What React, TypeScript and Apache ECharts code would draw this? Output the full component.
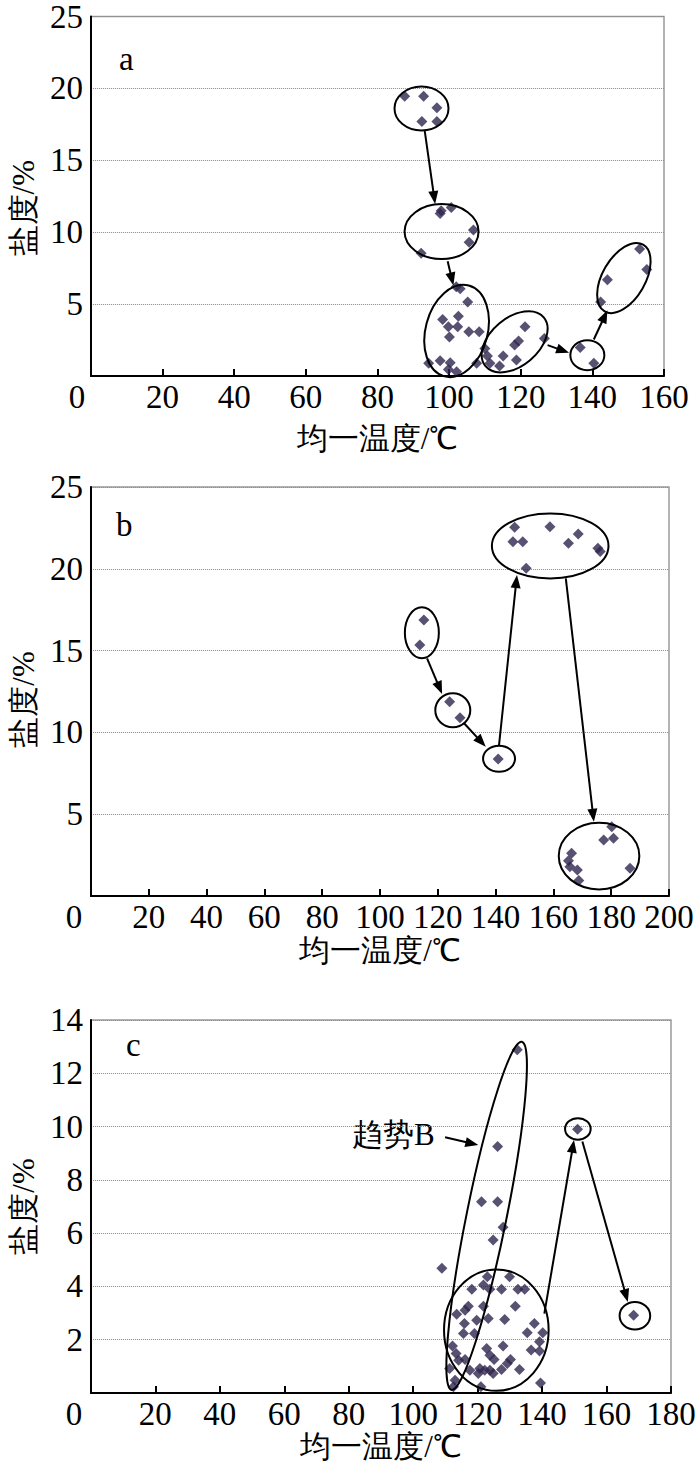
import React, { useEffect, useRef } from 'react';
import * as echarts from 'echarts';

const SERIF = 'Liberation Serif';
const MARK = '#30264d';

// ---------- Panel a ----------
const aTemp = [87.6, 92.9, 96.6, 92.4, 96.6,
  97.8, 100.6, 97.5, 106.8, 105.6, 92.2,
  103.1, 102.0, 105.2, 98.2, 102.6, 99.8, 102.4, 105.5, 108.4, 100.1, 94.3, 97.5, 100.3, 99.8, 102.1, 107.7,
  110.0, 110.7, 111.4, 114.1, 115.1, 118.8, 118.3, 119.4, 121.2, 126.6,
  136.6, 140.4,
  153.2, 155.2, 144.2, 142.3];
const aSal = [19.46, 19.46, 18.65, 17.7, 17.7,
  11.5, 11.72, 11.3, 10.16, 9.3, 8.54,
  6.07, 6.2, 5.15, 3.93, 4.16, 3.42, 3.42, 3.07, 3.07, 2.72, 0.88, 1.06, 0.92, 0.46, 0.3, 0.88,
  1.92, 1.39, 0.88, 0.69, 1.39, 1.11, 2.15, 2.44, 3.42, 2.61,
  1.99, 0.88,
  8.84, 7.41, 6.7, 5.15];
// ellipse annotations: [centre temp, centre salinity, rx px, ry px, rotation deg]
const aEllipses = [
  [92.3, 18.6, 27, 22, 0],
  [97.9, 10.04, 37, 27.5, 0],
  [102.1, 3.13, 31, 47, -15],
  [118.3, 2.38, 38, 24, 40],
  [138.6, 1.45, 17, 15, 0],
  [148.8, 6.81, 38.5, 21.4, 60],
];
// arrows: [from temp, from sal, to temp, to sal]
const aArrows = [
  [93.2, 17.04, 96.1, 11.96],
  [99.6, 7.98, 101.2, 6.3],
  [127.5, 2.15, 133.5, 1.61],
  [140.4, 2.54, 144.2, 4.57],
];

// ---------- Panel b ----------
const bTemp = [115.2, 113.8, 124.1, 127.7, 140.9,
  146.6, 146.0, 149.4, 158.8, 168.6, 165.2, 175.4, 176.2, 150.6,
  180.2, 177.4, 180.8, 166.3, 165.2, 165.7, 168.3, 168.8, 186.5];
const bSal = [16.87, 15.34, 11.88, 10.9, 8.37,
  22.54, 21.66, 21.66, 22.57, 22.13, 21.56, 21.25, 21.05, 20.03,
  4.24, 3.42, 3.53, 2.61, 2.16, 1.79, 1.59, 0.94, 1.69];
const bEllipses = [
  [114.5, 16.09, 17, 25.5, 0],
  [125.2, 11.35, 17.5, 17, 0],
  [141.2, 8.39, 16, 13, 0],
  [158.9, 21.4, 58.3, 32.5, 0],
  [175.8, 2.44, 40.3, 33.3, 0],
];
const bArrows = [
  [116.3, 14.53, 121.5, 12.35],
  [129.1, 10.56, 136.6, 9.13],
  [141.2, 9.23, 147.4, 19.62],
  [164.3, 19.42, 174.0, 4.54],
];

// ---------- Panel c ----------
const cTemp = [132.3, 126.2, 121.2, 126.2, 127.9, 124.8, 108.9, 123.0, 129.9, 121.8,
  118.2, 127.4, 132.5, 134.6, 123.8, 121.8, 131.7, 117.1, 116.1, 113.5,
  123.3, 119.7, 128.4, 115.9, 137.6, 115.6, 119.0, 135.4, 140.2, 139.2,
  112.2, 127.9, 122.8, 113.3, 136.6, 139.2, 123.8, 125.1, 130.2, 114.1,
  116.1, 129.2, 111.3, 120.7, 122.2, 123.8, 127.4, 133.0, 117.6, 120.2,
  124.8, 113.0, 139.5, 112.5, 121.0, 151.0, 168.4];
const cSal = [12.88, 9.25, 7.18, 7.18, 6.22, 5.74, 4.68, 4.36, 4.36, 4.05,
  3.89, 3.89, 3.89, 3.89, 3.89, 3.26, 3.26, 3.26, 3.11, 2.96,
  2.8, 2.73, 2.76, 2.61, 2.61, 2.23, 2.23, 2.26, 2.26, 1.92,
  1.76, 1.76, 1.67, 1.48, 1.61, 1.58, 1.42, 1.26, 1.26, 1.23,
  1.26, 1.11, 0.92, 0.92, 0.85, 0.85, 0.88, 0.88, 0.85, 0.73,
  0.73, 0.48, 0.38, 0.23, 0.23, 9.9, 2.92];
const cEllipses = [
  [122.8, 6.65, 20, 177.6, -11.4],
  [125.8, 2.36, 52.3, 60.7, 0],
  [151.1, 9.91, 12.8, 10.8, 0],
  [168.8, 2.9, 15.3, 13.8, 0],
];
const cArrows = [
  [140.7, 2.98, 149.9, 9.5],
  [152.5, 9.44, 166.6, 3.42],
  [109.9, 9.6, 120.2, 9.31],
];

const xTitle = '均一温度/℃';
const yTitle = '盐度/%';

const ellipseItem = (params: any, api: any) => {
  const c = api.coord([api.value(0), api.value(1)]);
  return {
    type: 'ellipse',
    x: c[0],
    y: c[1],
    rotation: (api.value(4) * Math.PI) / 180,
    shape: { cx: 0, cy: 0, rx: api.value(2), ry: api.value(3) },
    style: { fill: 'none', stroke: '#000', lineWidth: 2 },
  };
};

const arrowItem = (params: any, api: any) => {
  const p1 = api.coord([api.value(0), api.value(1)]);
  const p2 = api.coord([api.value(2), api.value(3)]);
  const dx = p2[0] - p1[0];
  const dy = p2[1] - p1[1];
  const len = Math.hypot(dx, dy) || 1;
  const ux = dx / len;
  const uy = dy / len;
  const hl = 13;
  const hw = 5;
  const bx = p2[0] - ux * hl;
  const by = p2[1] - uy * hl;
  return {
    type: 'group',
    children: [
      { type: 'line', shape: { x1: p1[0], y1: p1[1], x2: bx + ux * 2, y2: by + uy * 2 }, style: { stroke: '#000', lineWidth: 2 } },
      {
        type: 'polygon',
        shape: { points: [[p2[0], p2[1]], [bx - uy * hw, by + ux * hw], [bx + uy * hw, by - ux * hw]] },
        style: { fill: '#000' },
      },
    ],
  };
};

const tok = { fontFamily: SERIF, fontSize: 33, color: '#000' };

function makeAxes(idx: number, xMax: number, yMax: number, yInt: number, zeroShift: number, nameGapX: number, yNameShift: number) {
  const xAxis = {
    type: 'value',
    gridIndex: idx,
    min: 0,
    max: xMax,
    interval: 20,
    name: xTitle,
    nameLocation: 'middle',
    nameGap: nameGapX,
    nameTextStyle: { fontFamily: SERIF, fontSize: 31, color: '#000' },
    axisLine: { show: true, onZero: false, lineStyle: { color: '#000', width: 2 } },
    axisTick: { show: true, inside: true, length: 7, lineStyle: { color: '#000', width: 2 } },
    splitLine: { show: false },
    axisLabel: {
      fontFamily: SERIF,
      fontSize: 33,
      color: '#000',
      margin: 4,
      formatter: (v: number) => (v === 0 ? '{z|0}' : `{n|${v}}`),
      rich: { n: { ...tok }, z: { ...tok, padding: [0, zeroShift * 2, 0, 0] } },
    },
  };
  const yAxis = {
    type: 'value',
    gridIndex: idx,
    min: 0,
    max: yMax,
    interval: yInt,
    name: yTitle,
    nameLocation: 'middle',
    nameGap: 46,
    nameTextStyle: { fontFamily: SERIF, fontSize: 31, color: '#000', padding: [0, yNameShift * 2, 0, 0] },
    axisLine: { show: true, onZero: false, lineStyle: { color: '#000', width: 2 } },
    axisTick: { show: false },
    splitLine: { show: true, lineStyle: { color: '#8a8a8a', type: 'dotted', width: 1 } },
    axisLabel: {
      fontFamily: SERIF, fontSize: 33, color: '#000', margin: 8, showMinLabel: false,
      formatter: (v: number) => `{n|${v}}`,
      rich: { n: { ...tok } },
    },
  };
  return { xAxis, yAxis };
}

function panelSeries(idx: number, xs: number[], ys: number[], ellipses: number[][], arrows: number[][]) {
  return [
    {
      type: 'scatter',
      xAxisIndex: idx,
      yAxisIndex: idx,
      symbol: 'diamond',
      symbolSize: 11,
      itemStyle: { color: MARK },
      data: xs.map((x, i) => [x, ys[i]]),
      z: 2,
    },
    {
      type: 'custom',
      xAxisIndex: idx,
      yAxisIndex: idx,
      renderItem: ellipseItem,
      data: ellipses,
      encode: { x: 0, y: 1 },
      clip: false,
      z: 3,
    },
    {
      type: 'custom',
      xAxisIndex: idx,
      yAxisIndex: idx,
      renderItem: arrowItem,
      data: arrows,
      encode: { x: [0, 2], y: [1, 3] },
      clip: false,
      z: 3,
    },
  ];
}

export default function App() {
  const ref = useRef<HTMLDivElement>(null);
  useEffect(() => {
    if (!ref.current) return;
    const chart = echarts.init(ref.current, null, { renderer: 'svg' });
    const A = makeAxes(0, 160, 25, 5, 14, 47, 12);
    const B = makeAxes(1, 200, 25, 5, 17, 39, 8);
    const C = makeAxes(2, 180, 14, 2, 17, 36, 0);
    const gridBase = { show: true, borderColor: '#9a9a9a', borderWidth: 1.5, backgroundColor: 'transparent', containLabel: false };
    chart.setOption({
      animation: false,
      backgroundColor: '#fff',
      textStyle: { fontFamily: SERIF },
      grid: [
        { ...gridBase, left: 86, top: 15, width: 578, height: 361 },
        { ...gridBase, left: 87, top: 487, width: 582, height: 409 },
        { ...gridBase, left: 86, top: 1020, width: 585, height: 373 },
      ],
      xAxis: [A.xAxis, B.xAxis, C.xAxis],
      yAxis: [A.yAxis, B.yAxis, C.yAxis],
      series: [
        ...panelSeries(0, aTemp, aSal, aEllipses, aArrows),
        ...panelSeries(1, bTemp, bSal, bEllipses, bArrows),
        ...panelSeries(2, cTemp, cSal, cEllipses, cArrows),
      ],
      graphic: [
        { type: 'text', left: 119, top: 42, style: { text: 'a', font: `33px ${SERIF}`, fill: '#000' } },
        { type: 'text', left: 116, top: 508, style: { text: 'b', font: `33px ${SERIF}`, fill: '#000' } },
        { type: 'text', left: 126, top: 1028, style: { text: 'c', font: `33px ${SERIF}`, fill: '#000' } },
        { type: 'text', left: 352, top: 1119, style: { text: '趋势B', font: `31px ${SERIF}`, fill: '#000' } },
      ],
    });
    return () => chart.dispose();
  }, []);
  return <div ref={ref} style={{ position: 'absolute', left: 0, top: 0, width: 700, height: 1468 }} />;
}
